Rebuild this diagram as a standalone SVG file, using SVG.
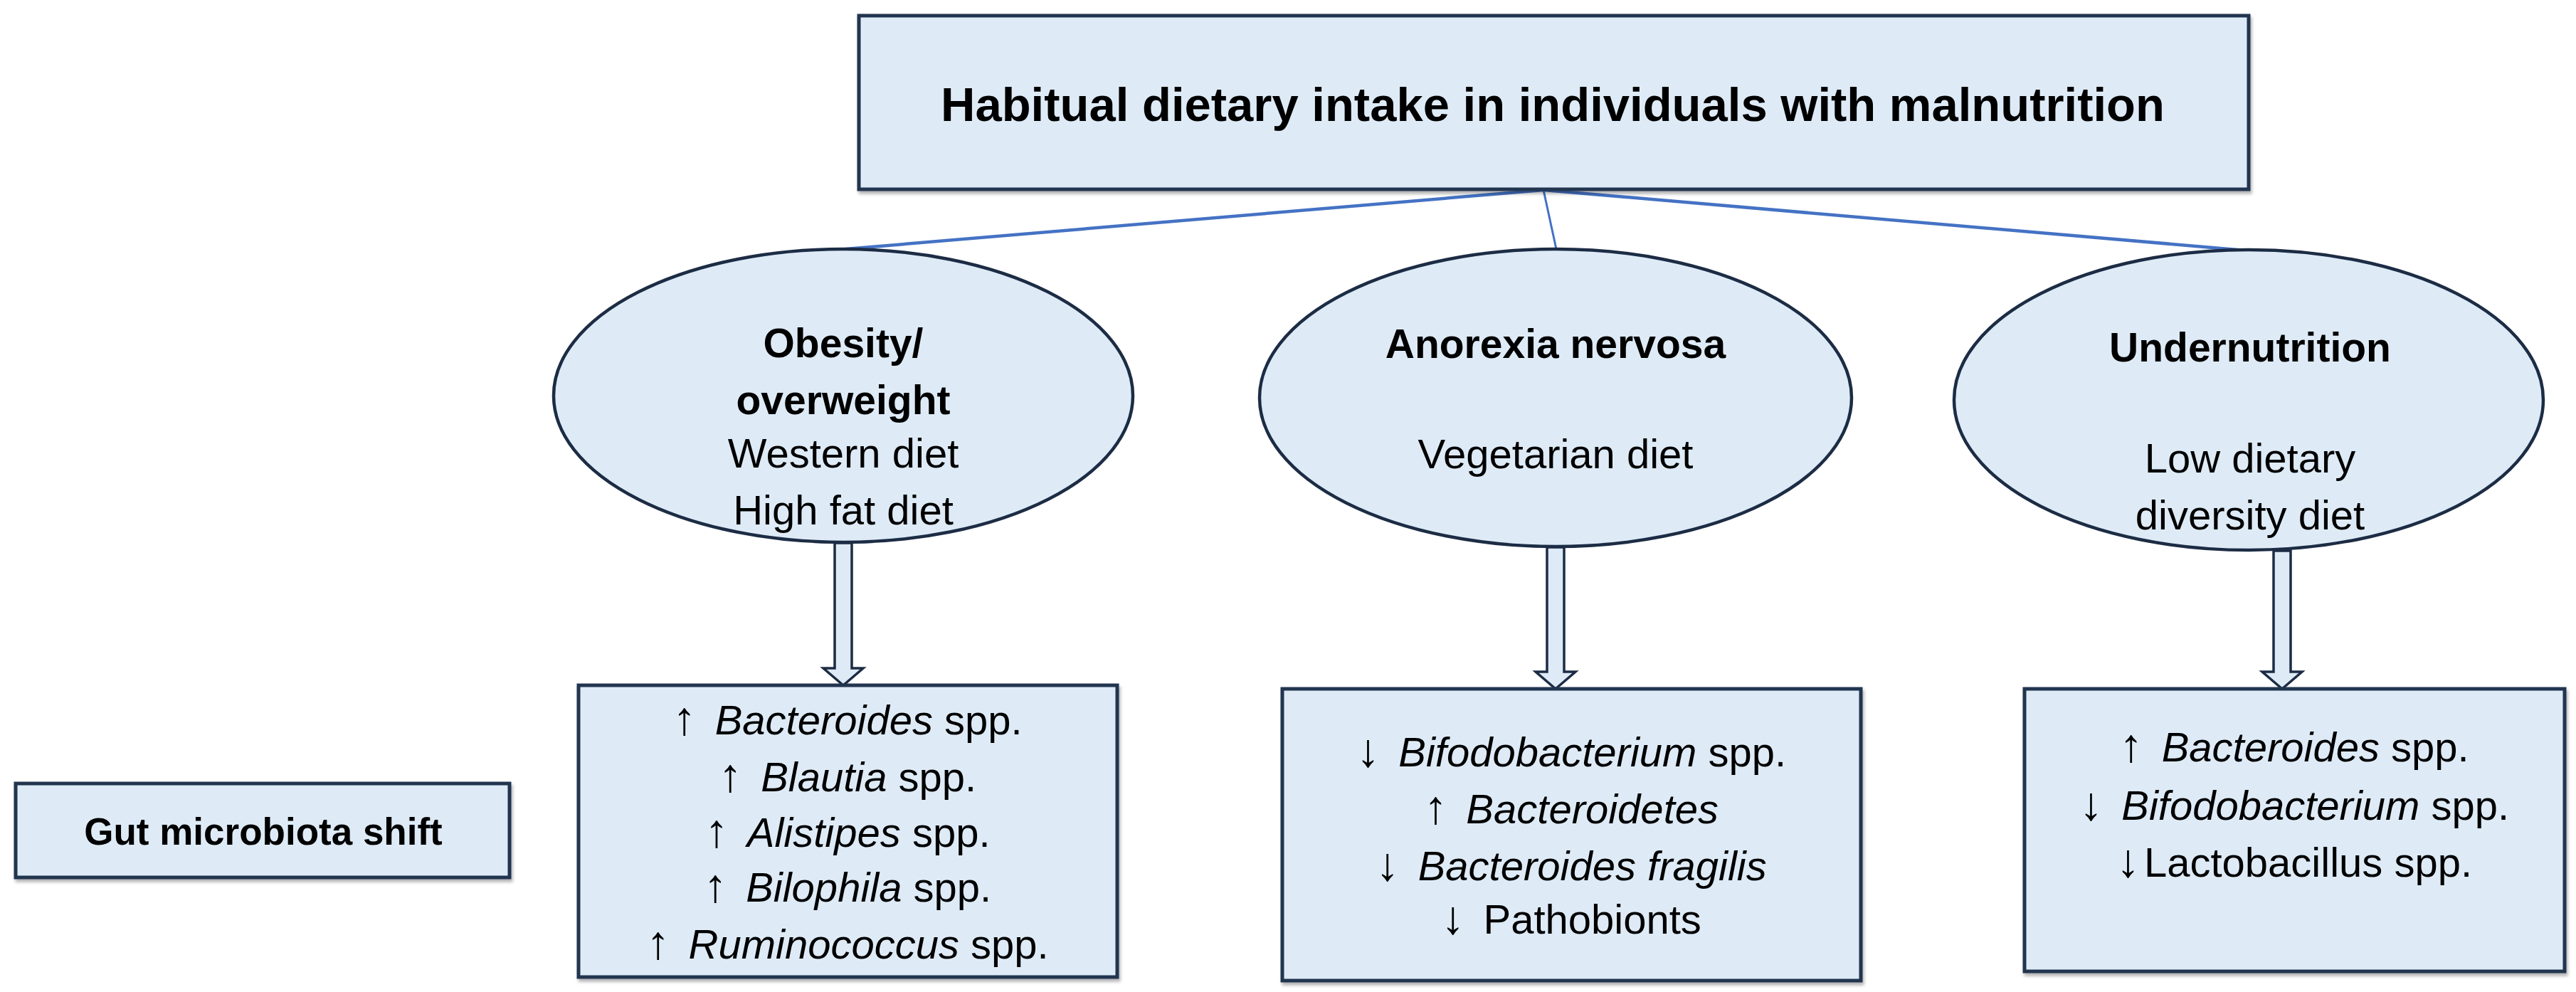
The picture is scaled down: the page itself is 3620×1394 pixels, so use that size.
<svg xmlns="http://www.w3.org/2000/svg" width="3620" height="1394" viewBox="0 0 3620 1394">
<defs>
<style>
.box{fill:#deebf7;stroke:#203450;stroke-width:5}
.ell{fill:#deebf7;stroke:#1c2c44;stroke-width:4.5}
.conn{stroke:#4472c4;stroke-width:4.5;fill:none}
.blk{fill:#deebf7;stroke:#1c2c44;stroke-width:3.5;stroke-linejoin:miter}
text{font-family:"Liberation Sans",Arial,sans-serif;fill:#000;text-anchor:middle}
.b{font-weight:bold}
.t{font-size:67px}
.h{font-size:57px}
.r{font-size:58px}
.g{font-size:53px}
.i{font-style:italic}
.a{font-size:66px}
</style>
<filter id="sh" x="-5%" y="-5%" width="110%" height="115%">
<feDropShadow dx="2" dy="4" stdDeviation="2" flood-color="#000" flood-opacity="0.3"/>
</filter>
</defs>
<g id="connectors">
<line class="conn" x1="2169" y1="267" x2="1188" y2="350"/>
<line class="conn" x1="2169" y1="267" x2="2187" y2="350" style="stroke-width:3"/>
<line class="conn" x1="2169" y1="267" x2="3156" y2="352"/>
<path class="blk" d="M1173 763 L1197 763 L1197 939 L1213 939 L1185 963 L1157 939 L1173 939 Z"/>
<path class="blk" d="M2174 769 L2198 769 L2198 944 L2214 944 L2186 968 L2158 944 L2174 944 Z"/>
<path class="blk" d="M3195 774 L3219 774 L3219 944 L3235 944 L3207 968 L3179 944 L3195 944 Z"/>
</g>
<g id="top">
<rect class="box" x="1207" y="22" width="1953" height="244" filter="url(#sh)"/>
<text class="b t" x="2182" y="170">Habitual dietary intake in individuals with malnutrition</text>
</g>
<g id="obesity">
<ellipse class="ell" cx="1185" cy="556" rx="407" ry="206"/>
<text class="b h" x="1185" y="502">Obesity/</text>
<text class="b h" x="1185" y="582">overweight</text>
<text class="r" x="1185" y="657">Western diet</text>
<text class="r" x="1185" y="737">High fat diet</text>
</g>
<g id="anorexia">
<ellipse class="ell" cx="2186" cy="559" rx="416" ry="209"/>
<text class="b h" x="2186" y="503">Anorexia nervosa</text>
<text class="r" x="2186" y="658">Vegetarian diet</text>
</g>
<g id="undernutrition">
<ellipse class="ell" cx="3160" cy="562" rx="414" ry="211"/>
<text class="b h" x="3162" y="508">Undernutrition</text>
<text class="r" x="3162" y="664">Low dietary</text>
<text class="r" x="3162" y="744">diversity diet</text>
</g>
<g id="gut">
<rect class="box" x="22" y="1101" width="694" height="132" filter="url(#sh)"/>
<text class="b g" x="370" y="1187">Gut microbiota shift</text>
</g>
<g id="box-obesity">
<rect class="box" x="813" y="963" width="757" height="410" filter="url(#sh)"/>
<text class="r" x="1191" y="1032"><tspan class="a">↑ </tspan><tspan class="i" dx="8">Bacteroides</tspan> spp.</text>
<text class="r" x="1191" y="1112"><tspan class="a">↑ </tspan><tspan class="i" dx="8">Blautia</tspan> spp.</text>
<text class="r" x="1191" y="1190"><tspan class="a">↑ </tspan><tspan class="i" dx="8">Alistipes</tspan> spp.</text>
<text class="r" x="1191" y="1267"><tspan class="a">↑ </tspan><tspan class="i" dx="8">Bilophila</tspan> spp.</text>
<text class="r" x="1191" y="1347"><tspan class="a">↑ </tspan><tspan class="i" dx="8">Ruminococcus</tspan> spp.</text>
</g>
<g id="box-anorexia">
<rect class="box" x="1802" y="968" width="813" height="410" filter="url(#sh)"/>
<text class="r" x="2208" y="1077"><tspan class="a">↓ </tspan><tspan class="i" dx="8">Bifodobacterium</tspan> spp.</text>
<text class="r" x="2208" y="1157"><tspan class="a">↑ </tspan><tspan class="i" dx="8">Bacteroidetes</tspan></text>
<text class="r" x="2208" y="1237"><tspan class="a">↓ </tspan><tspan class="i" dx="8">Bacteroides fragilis</tspan></text>
<text class="r" x="2208" y="1312"><tspan class="a">↓ </tspan><tspan dx="8">Pathobionts</tspan></text>
</g>
<g id="box-undernutrition">
<rect class="box" x="2845" y="968" width="759" height="397" filter="url(#sh)"/>
<text class="r" x="3224" y="1070"><tspan class="a">↑ </tspan><tspan class="i" dx="8">Bacteroides</tspan> spp.</text>
<text class="r" x="3224" y="1152"><tspan class="a">↓ </tspan><tspan class="i" dx="8">Bifodobacterium</tspan> spp.</text>
<text class="r" x="3224" y="1232"><tspan class="a">↓</tspan><tspan dx="6">Lactobacillus spp.</tspan></text>
</g>
</svg>
